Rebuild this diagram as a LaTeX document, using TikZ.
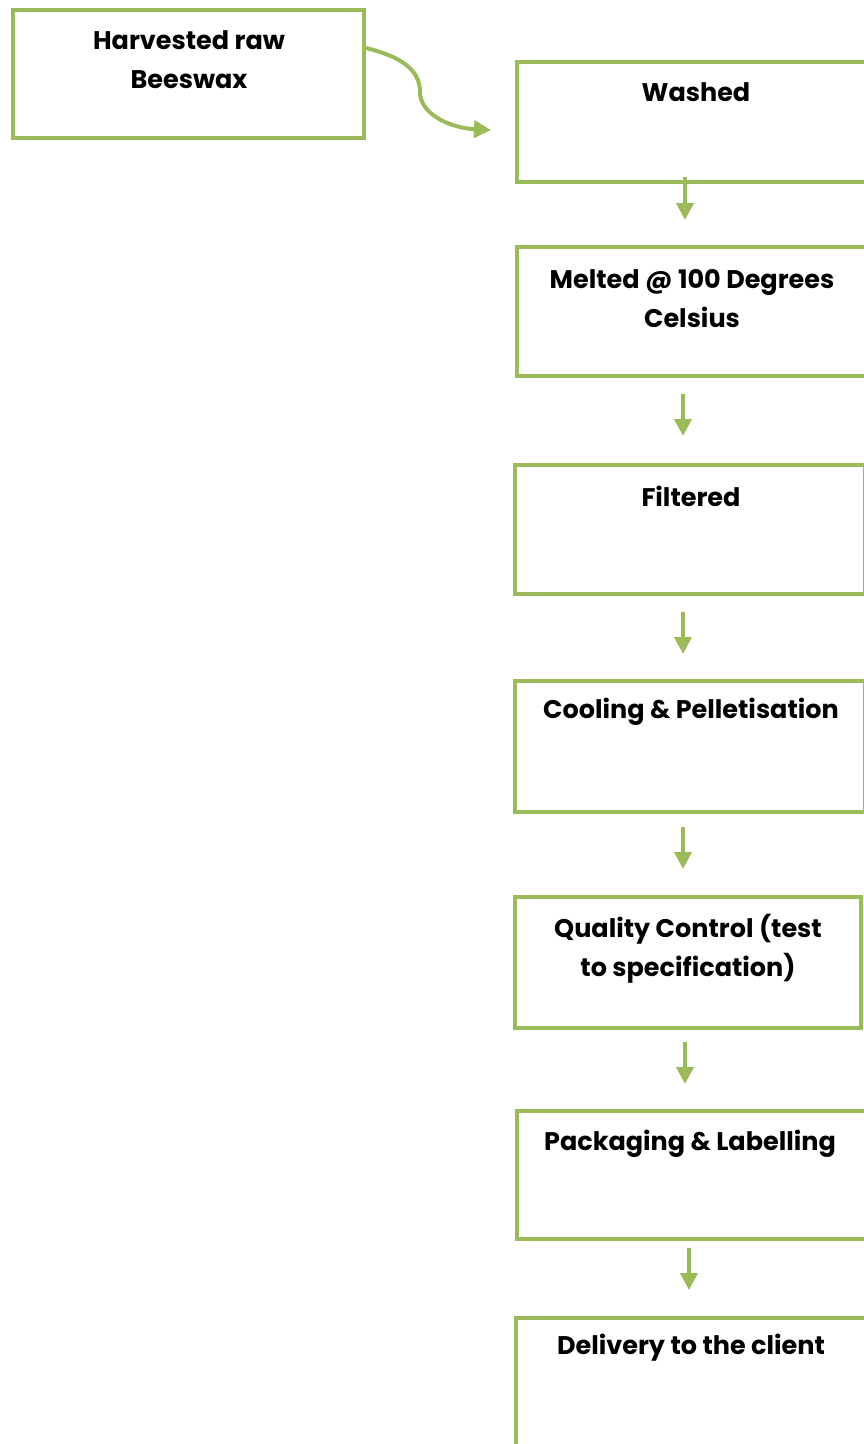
\documentclass[tikz,border=0pt]{standalone}
\usepackage{fontspec}
\setmainfont{Poppins}
\usetikzlibrary{arrows.meta}
\definecolor{leaf}{HTML}{9BBB59}
\tikzset{
  box/.style={draw=leaf, line width=4pt, minimum width=350pt, inner sep=0pt},
  lbl/.style={font=\fontsize{25.5}{39}\selectfont\bfseries, align=center, inner sep=0pt, text=black},
  arr/.style={draw=leaf, line width=4pt, -{Triangle[length=17pt,width=17pt]}}
}
\begin{document}
\begin{tikzpicture}[x=1pt,y=-1pt]
\useasboundingbox (0,0) rectangle (864,1444);
\clip (0,0) rectangle (864,1444);
\fill[white] (0,0) rectangle (864,1444);
% boxes
\node[box, minimum width=351pt, minimum height=128pt] (b1) at (188.5,74) {};
\node[box, minimum height=120pt] (b2) at (692,122) {};
\node[box, minimum height=129pt] (b3) at (692,311.5) {};
\node[box, minimum height=129pt] (b4) at (690,529.5) {};
\node[box, minimum height=131pt] (b5) at (690,746.5) {};
\node[box, minimum width=346pt, minimum height=131pt] (b6) at (688,962.5) {};
\node[box, minimum height=128pt] (b7) at (692,1175) {};
\node[box, minimum height=160pt] (b8) at (691,1398) {};
% labels
\node[lbl] (t1) at (189,60) {Harvested raw\\Beeswax};
\node[lbl] (t2) at (696,92) {Washed};
\node[lbl] (t3) at (692,298.5) {Melted @ 100 Degrees\\Celsius};
\node[lbl] (t4) at (691,496) {Filtered};
\node[lbl] (t5) at (691,712) {Cooling \& Pelletisation};
\node[lbl] (t6) at (688,948.5) {Quality Control (test\\to specification)};
\node[lbl] (t7) at (690,1144) {Packaging \& Labelling};
\node[lbl] (t8) at (691,1348) {Delivery to the client};
% connectors
\draw[arr] ([yshift=26pt]b1.east) .. controls (398,56) and (420,68) .. (420,92)
  .. controls (420,114) and (450,128) .. ([shift={(-24,8)}]b2.west);
\draw[arr] ([shift={(-7,-7)}]b2.south) -- ([shift={(-7,-25)}]b3.north);
\draw[arr] ([shift={(-9,16)}]b3.south) -- ([shift={(-7,-27)}]b4.north);
\draw[arr] ([shift={(-7,16)}]b4.south) -- ([shift={(-7,-25)}]b5.north);
\draw[arr] ([shift={(-7,13)}]b5.south) -- ([shift={(-5,-26)}]b6.north);
\draw[arr] ([shift={(-3,12)}]b6.south) -- ([shift={(-7,-25)}]b7.north);
\draw[arr] ([shift={(-3,7)}]b7.south) -- ([shift={(-2,-26)}]b8.north);
\end{tikzpicture}
\end{document}
